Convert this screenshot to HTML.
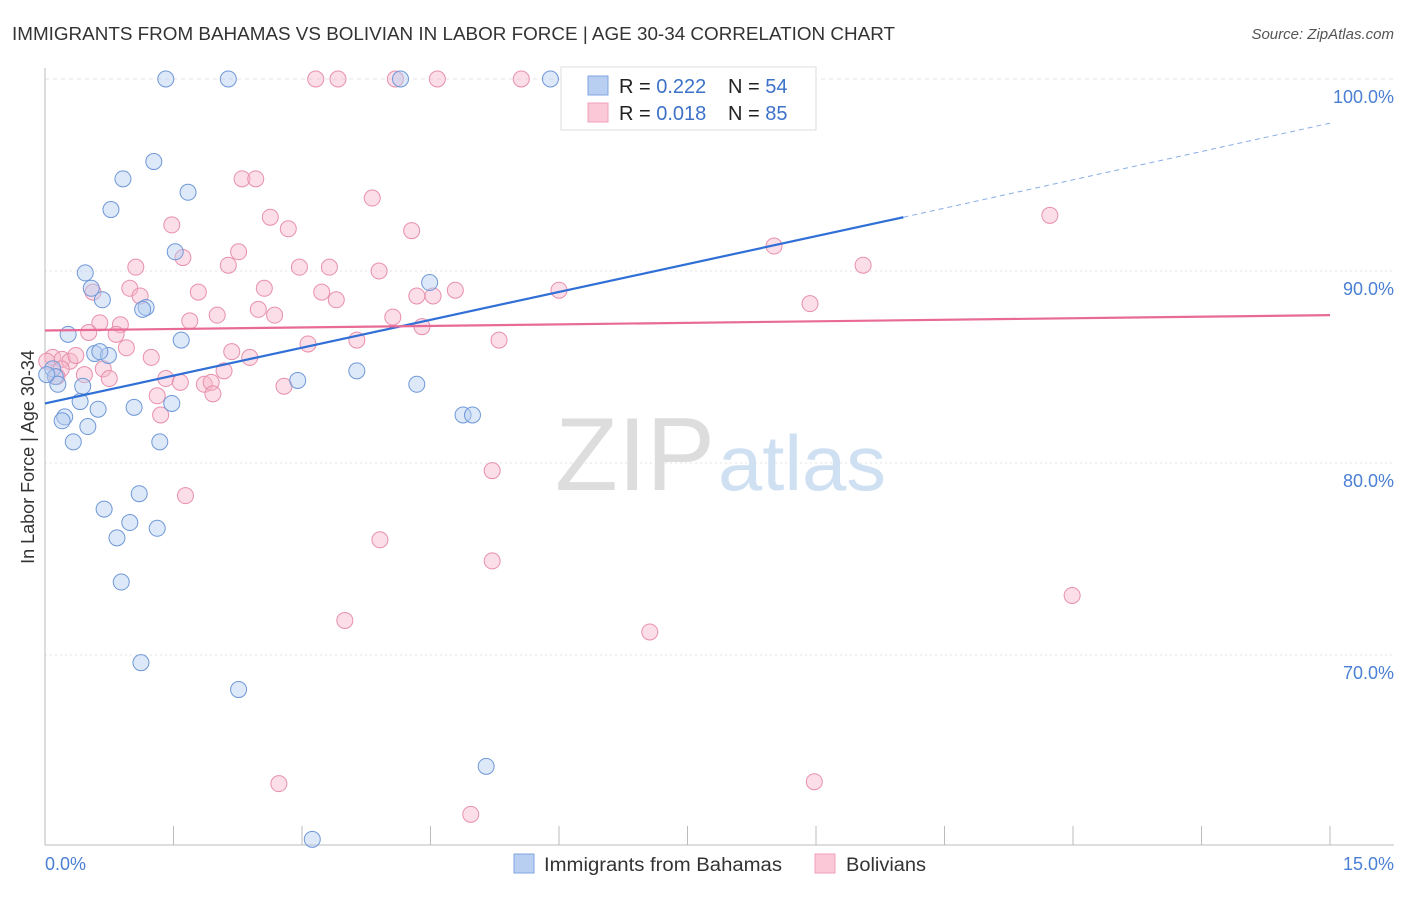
<!DOCTYPE html>
<html><head><meta charset="utf-8"><style>
body{margin:0;background:#fff;font-family:"Liberation Sans",sans-serif;}
svg text{font-family:"Liberation Sans",sans-serif;}
</style></head><body>
<svg id="chart" width="1406" height="892">
<text x="12" y="40" font-size="18" fill="#333" textLength="883" lengthAdjust="spacingAndGlyphs">IMMIGRANTS FROM BAHAMAS VS BOLIVIAN IN LABOR FORCE | AGE 30-34 CORRELATION CHART</text>
<text x="1394" y="39" font-size="15" fill="#555" text-anchor="end" font-style="italic">Source: ZipAtlas.com</text>
<g id="grid"></g>
<text x="555" y="490" font-size="104" fill="#ddd" textLength="160" lengthAdjust="spacingAndGlyphs" font-family="Liberation Serif">ZIP</text>
<text x="718" y="490" font-size="78" fill="#cfe0f3" textLength="168" lengthAdjust="spacingAndGlyphs">atlas</text>
<g id="marks"></g>
<text transform="translate(34,457) rotate(-90)" font-size="18" fill="#333" text-anchor="middle">In Labor Force | Age 30-34</text>
<text x="45" y="870" font-size="18" fill="#4a7fd4">0.0%</text>
<text x="1394" y="870" font-size="18" fill="#4a7fd4" text-anchor="end">15.0%</text>
<g>
<rect x="561" y="67" width="255" height="63" fill="#fff" stroke="#ddd"/>
<rect x="588" y="76" width="20" height="19" fill="#b9cff2" stroke="#7fa6e0"/>
<rect x="588" y="103" width="20" height="19" fill="#fac8d6" stroke="#f0a0b8"/>
<text x="619" y="93" font-size="20" fill="#222">R = <tspan fill="#3d72c8">0.222</tspan><tspan x="728">N = </tspan><tspan fill="#3d72c8">54</tspan></text>
<text x="619" y="120" font-size="20" fill="#222">R = <tspan fill="#3d72c8">0.018</tspan><tspan x="728">N = </tspan><tspan fill="#3d72c8">85</tspan></text>
</g>
<g>
<rect x="514" y="854" width="20" height="19" fill="#b9cff2" stroke="#7fa6e0"/>
<text x="544" y="871" font-size="19" fill="#333" textLength="238" lengthAdjust="spacingAndGlyphs">Immigrants from Bahamas</text>
<rect x="815" y="854" width="20" height="19" fill="#fac8d6" stroke="#f0a0b8"/>
<text x="846" y="871" font-size="19" fill="#333" textLength="80" lengthAdjust="spacingAndGlyphs">Bolivians</text>
</g>
</svg>
<script>
const yTicks=[100,90,80,70];
const yTickLabels=["100.0%","90.0%","80.0%","70.0%"];
const blueX=[1.41,2.14,4.15,5.9,6.85,8.85,1.27,0.91,1.67,0.77,1.52,0.47,0.54,0.67,1.18,1.14,0.27,1.59,0.58,0.74,0.64,0.09,0.12,0.15,0.44,0.41,2.95,3.64,4.34,4.49,0.23,0.2,0.62,1.04,1.48,0.5,0.33,1.34,4.88,4.99,1.1,0.69,0.99,1.31,0.84,0.89,1.12,2.26,5.15,3.12,0.02];
const blueY=[100,100,100,100,100,100,95.7,94.8,94.1,93.2,91.0,89.9,89.1,88.5,88.1,88.0,86.7,86.4,85.7,85.6,85.8,84.9,84.5,84.1,84.0,83.2,84.3,84.8,84.1,89.4,82.4,82.2,82.8,82.9,83.1,81.9,81.1,81.1,82.5,82.5,78.4,77.6,76.9,76.6,76.1,73.8,69.6,68.2,64.2,60.4,84.6];
const pinkX=[3.16,3.42,4.09,4.58,5.56,6.35,2.3,2.46,3.82,1.48,2.63,2.84,4.28,2.26,1.61,11.73,8.51,9.55,1.06,2.14,2.97,3.32,3.9,2.56,0.56,0.99,1.79,1.11,3.23,3.4,4.34,4.53,4.79,6.0,8.93,2.49,2.68,2.01,1.69,0.88,0.64,0.51,0.83,4.4,4.06,3.07,3.64,5.3,0.95,2.18,2.39,1.24,0.09,0.2,0.29,0.36,0.68,2.09,0.19,0.46,0.75,1.41,1.58,1.86,1.94,2.79,1.96,1.31,1.35,5.22,1.64,3.91,5.22,3.5,7.06,11.99,2.73,8.98,4.97,0.02,0.14];
const pinkY=[100,100,100,100,100,100,94.8,94.8,93.8,92.4,92.8,92.2,92.1,91.0,90.7,92.9,91.3,90.3,90.2,90.3,90.2,90.2,90.0,89.1,88.9,89.1,88.9,88.7,88.9,88.5,88.7,88.7,89.0,89.0,88.3,88.0,87.7,87.7,87.4,87.2,87.3,86.8,86.7,87.1,87.6,86.2,86.4,86.4,86.0,85.8,85.5,85.5,85.5,85.4,85.3,85.6,84.9,84.8,84.9,84.6,84.4,84.4,84.2,84.1,84.2,84.0,83.6,83.5,82.5,79.6,78.3,76.0,74.9,71.8,71.2,73.1,63.3,63.4,61.7,85.3,84.5];
const blueTrend=[[0,83.1],[10.02,92.8],[15,97.7]];
const pinkTrend=[[0,86.9],[15,87.7]];
const X=v=>45+v/15*1285, Y=v=>79+(100-v)*19.2;
const NS="http://www.w3.org/2000/svg";
const grid=document.getElementById('grid'), marks=document.getElementById('marks'), svg=document.getElementById('chart');
function mk(tag,attrs,parent){const e=document.createElementNS(NS,tag);for(const k in attrs)e.setAttribute(k,attrs[k]);parent.appendChild(e);return e;}
yTicks.forEach((t,i)=>{
  const l=mk('line',{x1:45,x2:1394,y1:Y(t),y2:Y(t),stroke:'#e3e3e3','stroke-dasharray':t===100?'4,4':'2,3'},grid);
  
  
  const tx=mk('text',{x:1394,y:Y(t)+24,'font-size':18,fill:'#4a7fd4','text-anchor':'end'},svg);
  tx.textContent=yTickLabels[i];
  
  
});
const ax=mk('line',{x1:45,x2:45,y1:68,y2:845,stroke:'#bbb'},grid);


const bx=mk('line',{x1:45,x2:1394,y1:845,y2:845,stroke:'#bbb'},grid);


for(let i=0;i<=10;i++){const t=mk('line',{x1:X(i*1.5),x2:X(i*1.5),y1:826,y2:845,stroke:'#bbb'},grid);

}
function dots(xs,ys,fill,stroke,name){xs.forEach((x,i)=>{const c=mk('circle',{cx:X(x),cy:Y(ys[i]),r:8,fill:fill,'fill-opacity':0.45,stroke:stroke,'stroke-width':1},marks);

});}
dots(pinkX,pinkY,'#f7b6c9','#e890ab','bolivian-point');
dots(blueX,blueY,'#b3cbef','#6f98d8','bahamas-point');
const b1=mk('line',{x1:X(blueTrend[0][0]),y1:Y(blueTrend[0][1]),x2:X(blueTrend[1][0]),y2:Y(blueTrend[1][1]),stroke:'#2f6fd6','stroke-width':2.2},marks);


const b2=mk('line',{x1:X(blueTrend[1][0]),y1:Y(blueTrend[1][1]),x2:X(blueTrend[2][0]),y2:Y(blueTrend[2][1]),stroke:'#8aaee6','stroke-width':1,'stroke-dasharray':'5,4'},marks);


const p1=mk('line',{x1:X(pinkTrend[0][0]),y1:Y(pinkTrend[0][1]),x2:X(pinkTrend[1][0]),y2:Y(pinkTrend[1][1]),stroke:'#e86a96','stroke-width':2.2},marks);


</script>
</body></html>
